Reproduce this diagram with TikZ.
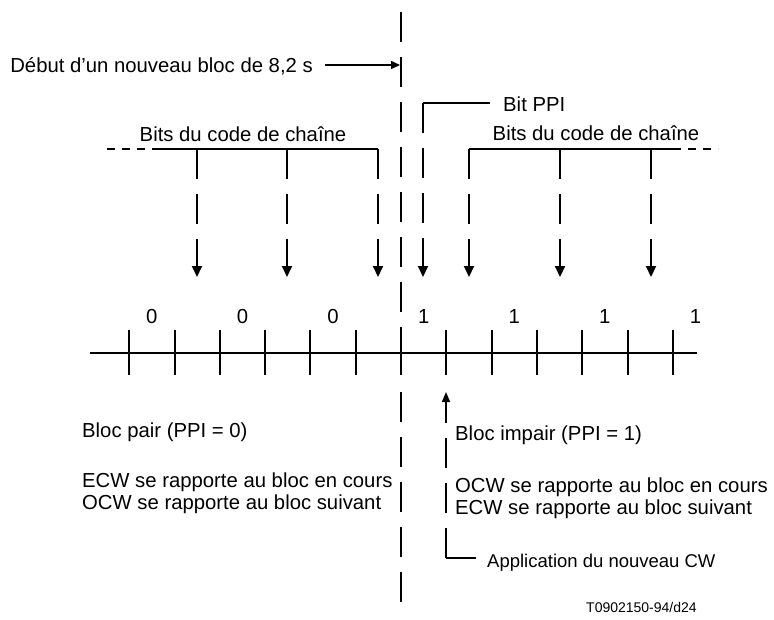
\documentclass[tikz,border=0pt]{standalone}
\usepackage{fontspec}
\setmainfont{Liberation Sans}
\usetikzlibrary{arrows.meta}

\begin{document}
\begin{tikzpicture}[x=1pt,y=-1pt,
  txt/.style={font=\fontsize{20.3}{23}\selectfont, inner sep=0pt,
              text height=14.6pt, text depth=0pt},
  midtxt/.style={font=\fontsize{18.5}{21}\selectfont, inner sep=0pt,
              text height=13.3pt, text depth=0pt},
  small/.style={font=\fontsize{14}{17}\selectfont, inner sep=0pt,
              text height=10pt, text depth=0pt},
  heavy/.style={line width=2pt},
  longdash/.style={heavy, dash pattern=on 30pt off 15pt},
  bitarrow/.style={longdash, -{Triangle[length=11pt,width=10pt]}},
  thinarrow/.style={line width=1.5pt, -{Triangle[length=9pt,width=8pt]}},
  shortdash/.style={heavy, dash pattern=on 8pt off 7pt}]
\useasboundingbox (0,0) rectangle (774,619);

% block boundary (dashed, interrupted below the time axis)
\coordinate (bTop) at (401,12);
\coordinate (bMid) at (401,360);
\coordinate (bLow) at (401,392);
\coordinate (bBot) at (401,602);
\draw[longdash] (bTop) -- (bMid);
\draw[longdash] (bLow) -- (bBot);

% start of a new block
\node[txt, anchor=east] (debut) at (313,65) {Début d'un nouveau bloc de 8,2 s};
\coordinate (debutTip) at (400,65);
\draw[thinarrow] ([xshift=12pt]debut.east) -- (debutTip);

% time axis with bit cells
\coordinate (axL) at (90,353);
\coordinate (axR) at (697,353);
\draw[heavy] (axL) -- (axR);
\foreach \k in {-6,...,6} {
  \coordinate (t\k) at ({401+45.3*\k},353);
  \draw[heavy] ([yshift=23pt]t\k) -- ([yshift=-22pt]t\k);
}
\foreach \k/\b in {-6/0,-4/0,-2/0,0/1,2/1,4/1,6/1} {
  \node[txt] (bit\k) at ({401+45.3*(\k+0.5)},316) {\b};
}

% chain code bits, preceding block
\node[txt] (codeL) at (243,134) {Bits du code de chaîne};
\coordinate (cLa) at (107,149);
\coordinate (cLb) at (152,149);
\coordinate (cLc) at (378,149);
\draw[shortdash] (cLa) -- (cLb);
\draw[heavy] (cLb) -- (cLc);
\foreach \x [count=\i] in {197,287,378} {
  \coordinate (aL\i) at (\x,149);
  \coordinate (aLt\i) at (\x,277);
  \draw[bitarrow] (aL\i) -- (aLt\i);
}

% PPI bit
\node[txt, anchor=west] (ppi) at (503,104) {Bit PPI};
\coordinate (pA) at (490,103);
\coordinate (pB) at (423,103);
\coordinate (pT) at (423,277);
\draw[line width=1.6pt] (pA) -- (pB);
\draw[bitarrow] (pB) -- (pT);

% chain code bits, new block
\node[txt] (codeR) at (596,133) {Bits du code de chaîne};
\coordinate (cRa) at (469,149);
\coordinate (cRb) at (673,149);
\coordinate (cRc) at (718,149);
\draw[heavy] (cRa) -- (cRb);
\draw[shortdash] (cRb) -- (cRc);
\foreach \x [count=\i] in {469,560,651} {
  \coordinate (aR\i) at (\x,149);
  \coordinate (aRt\i) at (\x,277);
  \draw[bitarrow] (aR\i) -- (aRt\i);
}

% even block
\node[txt, anchor=west] (pair) at (82,430) {Bloc pair (PPI = 0)};
\node[txt, anchor=west] (pairA) at (82,480) {ECW se rapporte au bloc en cours};
\node[txt, anchor=west] (pairB) at (82,502) {OCW se rapporte au bloc suivant};

% odd block
\node[txt, anchor=west] (impair) at (455,433) {Bloc impair (PPI = 1)};
\node[txt, anchor=west] (impairA) at (455,485) {OCW se rapporte au bloc en cours};
\node[txt, anchor=west] (impairB) at (455,507) {ECW se rapporte au bloc suivant};

% application of the new control word
\node[midtxt, anchor=west] (appl) at (487,561) {Application du nouveau CW};
\coordinate (apC) at (446,558);
\coordinate (apE) at (476,558);
\coordinate (apT) at (446,392);
\draw[line width=1.6pt] (apE) -- (apC);
\draw[line width=1.6pt, dash pattern=on 30pt off 15pt,
      -{Triangle[length=10pt,width=8pt]}] (apC) -- (apT);

% figure reference
\node[small, anchor=west] (ref) at (586,607) {T0902150-94/d24};
\end{tikzpicture}
\end{document}
